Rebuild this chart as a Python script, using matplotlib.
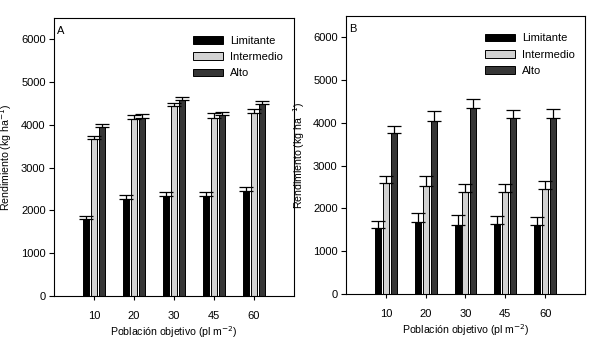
import matplotlib.pyplot as plt
import numpy as np

plt.rcParams['font.family'] = ['Liberation Sans', 'DejaVu Sans']

# Data
poblacion = ['10', '20', '30', '45', '60']
series = ['Limitante', 'Intermedio', 'Alto']
colors = ['#000000', '#d2d2d2', '#363636']

# Panel A: means and upper error
a_lim = [1800, 2270, 2340, 2340, 2460]
a_int = [3660, 4140, 4440, 4170, 4280]
a_alt = [3940, 4160, 4580, 4230, 4480]
a_lim_err = [70, 80, 80, 100, 90]
a_int_err = [70, 100, 70, 100, 100]
a_alt_err = [80, 90, 80, 80, 70]

# Panel B
b_lim = [1540, 1680, 1620, 1640, 1610]
b_int = [2600, 2520, 2380, 2390, 2450]
b_alt = [3770, 4040, 4350, 4120, 4110]
b_lim_err = [160, 220, 220, 180, 190]
b_int_err = [170, 230, 200, 190, 190]
b_alt_err = [160, 230, 220, 180, 210]

FS = 8


def panel(ax, vals, errs, letter, leg_xy):
	x = np.arange(len(poblacion))
	w = 0.15
	for i, (v, e) in enumerate(zip(vals, errs)):
		xi = x + (i - 1) * 0.2
		ax.bar(xi, v, w, color=colors[i], edgecolor='black', linewidth=0.7, label=series[i])
		ax.errorbar(xi, v, yerr=[np.zeros(len(v)), e], fmt='none', ecolor='black',
					elinewidth=0.9, capsize=5, capthick=0.9)
	ax.set_xlim(-1, 5)
	ax.set_ylim(0, 6500)
	ax.set_yticks(range(0, 7000, 1000))
	ax.set_xticks(x)
	ax.set_xticklabels(poblacion)
	ax.tick_params(axis='x', length=3, labelsize=FS, pad=8)
	ax.tick_params(axis='y', length=3.5, labelsize=FS, pad=2.5)
	ax.set_xlabel("Población objetivo (pl m$^{-2}$)", fontsize=7.6)
	ax.set_ylabel("Rendimiento (kg ha$^{-1}$)", fontsize=7.6)
	ax.xaxis.set_label_coords(0.5, -0.103)
	ax.yaxis.set_label_coords(-0.165, 0.5)
	ax.text(0.012, 0.972, letter, transform=ax.transAxes, fontsize=FS, va='top', ha='left')
	ax.legend(loc='upper left', bbox_to_anchor=leg_xy, frameon=False, fontsize=FS,
			  borderaxespad=0, borderpad=0,
			  handlelength=2.7, handleheight=0.7, labelspacing=0.55, handletextpad=0.6)


fig = plt.figure(figsize=(5.89, 3.46), dpi=100)
ax1 = fig.add_axes([0.0917, 0.1445, 0.4075, 0.8035])
ax2 = fig.add_axes([0.5874, 0.1503, 0.4058, 0.8035])
panel(ax1, [a_lim, a_int, a_alt], [a_lim_err, a_int_err, a_alt_err], 'A', (0.579, 0.935))
panel(ax2, [b_lim, b_int, b_alt], [b_lim_err, b_int_err, b_alt_err], 'B', (0.582, 0.937))
plt.savefig('out.png', dpi=100)
